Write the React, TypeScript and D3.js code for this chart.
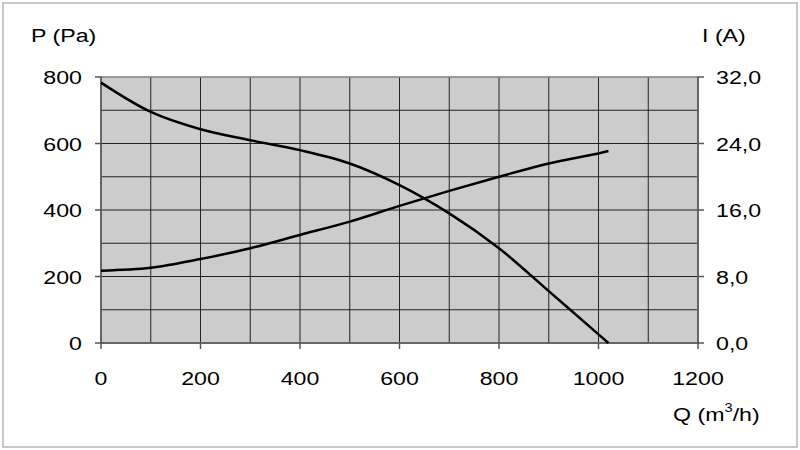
import React from "react";
import * as d3 from "d3";

const qValues = [0, 100, 200, 300, 400, 500, 600, 700, 800, 900, 1000, 1020];
const pValues = [783, 695, 643, 610, 580, 540, 475, 390, 285, 156, 26, 0];
const iValues = [8.7, 9.05, 10.1, 11.4, 13.0, 14.6, 16.5, 18.3, 20.0, 21.6, 22.8, 23.1];

const xTicks = [0, 200, 400, 600, 800, 1000, 1200];
const xGrid = [100, 200, 300, 400, 500, 600, 700, 800, 900, 1000, 1100];
const pTicks = [0, 200, 400, 600, 800];
const pGrid = [100, 200, 300, 400, 500, 600, 700];
const iTicks = [0, 8, 16, 24, 32];

const SX = 1.22;

function T({ x, y, anchor = "start", children }: { x: number; y: number; anchor?: string; children: React.ReactNode }) {
  return (
    <text transform={`translate(${x},${y}) scale(${SX},1)`} textAnchor={anchor} fontSize={19} fill="#000">
      {children}
    </text>
  );
}

export default function App() {
  const W = 800, H = 450;
  const L = 101, R = 698, T0 = 77, B = 343;
  const x = d3.scaleLinear().domain([0, 1200]).range([L, R]);
  const yP = d3.scaleLinear().domain([0, 800]).range([B, T0]);
  const yI = d3.scaleLinear().domain([0, 32]).range([B, T0]);
  const font = "'Liberation Sans', Arial, sans-serif";

  const pLine = d3.line<number>().x((_, i) => x(qValues[i])).y((d) => yP(d)).curve(d3.curveCatmullRom.alpha(0.5));
  const iLine = d3.line<number>().x((_, i) => x(qValues[i])).y((d) => yI(d)).curve(d3.curveCatmullRom.alpha(0.5));

  return (
    <svg width={W} height={H} style={{ position: "absolute", left: 0, top: 0 }} fontFamily={font}>
      <rect x={0} y={0} width={W} height={H} fill="#fff" />
      <rect x={3} y={3} width={W - 6} height={H - 6} fill="none" stroke="#c8c8c8" strokeWidth={2} />
      <rect x={L} y={T0} width={R - L} height={B - T0} fill="#cccccc" />
      {xGrid.map((v) => (
        <line key={"xg" + v} x1={x(v)} x2={x(v)} y1={T0} y2={B} stroke="#222" strokeWidth={1} />
      ))}
      {pGrid.map((v) => (
        <line key={"yg" + v} x1={L} x2={R} y1={yP(v)} y2={yP(v)} stroke="#222" strokeWidth={1} />
      ))}
      <rect x={L} y={T0} width={R - L} height={B - T0} fill="none" stroke="#808080" strokeWidth={1.5} />
      <line x1={L} x2={L} y1={T0} y2={B} stroke="#555" strokeWidth={1.5} />
      <line x1={L} x2={R} y1={B} y2={B} stroke="#555" strokeWidth={1.5} />
      <line x1={R} x2={R} y1={T0} y2={B} stroke="#555" strokeWidth={1.5} />
      {xTicks.map((v) => (
        <g key={"xt" + v}>
          <line x1={x(v)} x2={x(v)} y1={B} y2={B + 6} stroke="#555" strokeWidth={1.5} />
          <T x={x(v)} y={385} anchor="middle">{v}</T>
        </g>
      ))}
      {pTicks.map((v) => (
        <g key={"pt" + v}>
          <line x1={L - 6} x2={L} y1={yP(v)} y2={yP(v)} stroke="#555" strokeWidth={1.5} />
          <T x={82} y={yP(v) + 7} anchor="end">{v}</T>
        </g>
      ))}
      {iTicks.map((v) => (
        <g key={"it" + v}>
          <line x1={R} x2={R + 6} y1={yI(v)} y2={yI(v)} stroke="#555" strokeWidth={1.5} />
          <T x={716} y={yI(v) + 7}>{v.toFixed(1).replace(".", ",")}</T>
        </g>
      ))}
      <path d={pLine(pValues) || ""} fill="none" stroke="#000" strokeWidth={2.5} />
      <path d={iLine(iValues) || ""} fill="none" stroke="#000" strokeWidth={2.5} />
      <T x={31} y={42}>P (Pa)</T>
      <T x={702} y={42}>I (A)</T>
      <T x={673} y={421}>
        Q (m<tspan dy={-9} fontSize={12}>3</tspan><tspan dy={9}>/h)</tspan>
      </T>
    </svg>
  );
}
